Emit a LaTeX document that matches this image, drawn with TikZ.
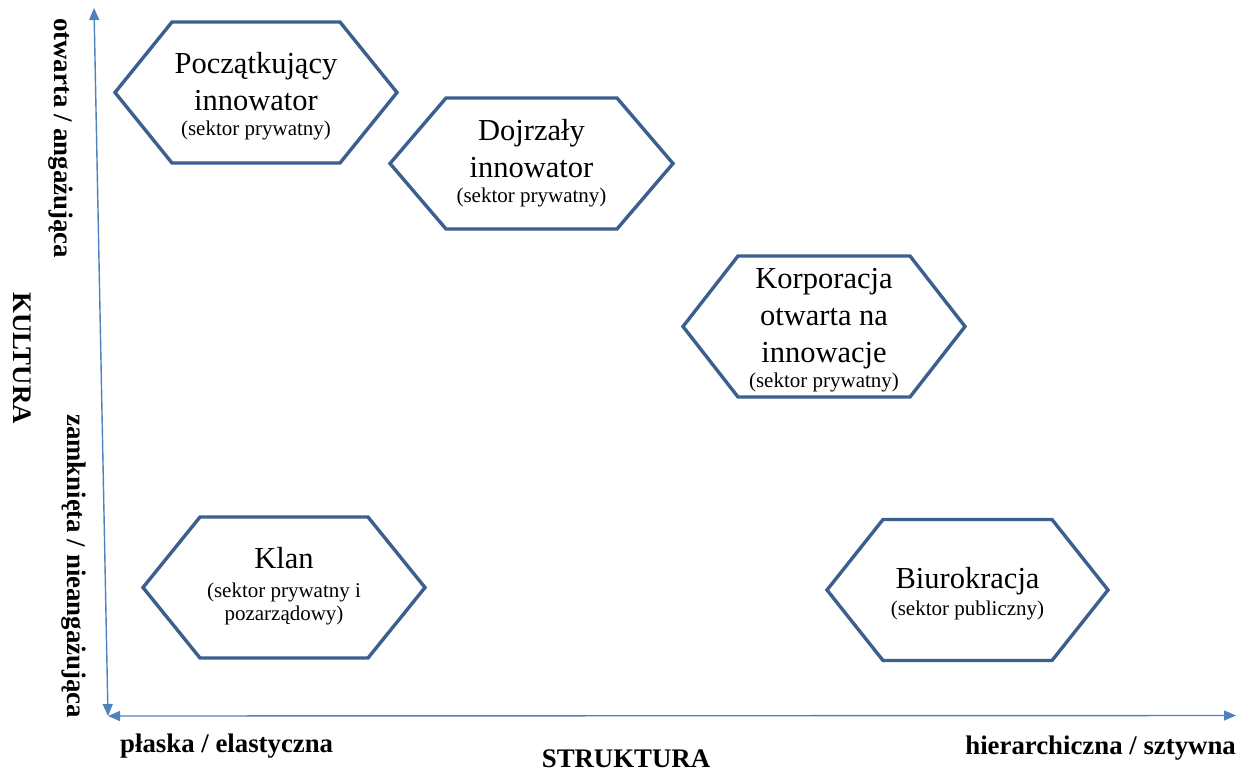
\documentclass[tikz,border=0pt]{standalone}
\usepackage{fontspec}
\setmainfont{Liberation Serif}
\usetikzlibrary{arrows.meta}

\definecolor{hexblue}{HTML}{3B5F8E}
\definecolor{axisblue}{HTML}{4F81BD}

\tikzset{
  hexline/.style={draw=hexblue, line width=3.4pt, fill=white, line join=miter},
  axisline/.style={draw=axisblue, line width=1.4pt,
    {Triangle[length=12pt,width=10pt]}-{Triangle[length=12pt,width=10pt]}},
  % multi-line labels: the base anchor sits on the baseline of the last line
  hextext/.style={align=center, inner sep=0pt, anchor=base,
    font=\fontsize{30.5}{37}\selectfont},
  axislabel/.style={inner sep=0pt, anchor=base, font=\fontsize{26.8}{30}\selectfont\bfseries},
}

% hexagon outline: name, centre x, centre y, half width, half height, slant
\newcommand{\hexshape}[6]{%
  \draw[hexline] ({#2-#4},#3) -- ({#2-#4+#6},{#3-#5}) -- ({#2+#4-#6},{#3-#5})
    -- ({#2+#4},#3) -- ({#2+#4-#6},{#3+#5}) -- ({#2-#4+#6},{#3+#5}) -- cycle;
  \coordinate (#1) at (#2,#3);
}
\newcommand{\smalltext}[1]{{\fontsize{21}{24}\selectfont #1}}

\begin{document}
\begin{tikzpicture}[x=1pt, y=-1pt]
  \useasboundingbox (0,0) rectangle (1249,771);

  % axes
  \coordinate (ytop) at (94,8);
  \coordinate (origin) at (108,716);
  \coordinate (xleft) at (108,716);
  \coordinate (xright) at (1236,715.5);
  \draw[axisline] (origin) -- (ytop);
  \draw[axisline] (xleft) -- (xright);

  % hexagons
  \hexshape{h1}{256}{92.5}{141}{70.5}{57}
  \hexshape{h2}{531.5}{163.5}{141.5}{65.5}{56}
  \hexshape{h3}{824}{326.5}{141}{70.5}{55}
  \hexshape{h4}{284}{587.5}{141}{70.5}{57}
  \hexshape{h5}{967.5}{590}{140.5}{70.5}{56}

  \node[hextext] (t1) at (256,135) {Początkujący\\innowator\\[-12pt]\smalltext{(sektor prywatny)}};
  \node[hextext] (t2) at (531.5,202) {Dojrzały\\innowator\\[-12pt]\smalltext{(sektor prywatny)}};
  \node[hextext] (t3) at (824,387) {Korporacja\\otwarta na\\innowacje\\[-12pt]\smalltext{(sektor prywatny)}};
  \node[hextext] (t4) at (284,620) {Klan\\[-8pt]\smalltext{(sektor prywatny i}\\[-14pt]\smalltext{pozarządowy)}};
  \node[hextext] (t5) at (967.5,615) {Biurokracja\\[-10pt]\smalltext{(sektor publiczny)}};

  % axis labels
  \node[axislabel, rotate=-90] (open) at (54,138) {otwarta / angażująca};
  \node[axislabel, rotate=-90] (closed) at (67,566) {zamknięta / nieangażująca};
  \node[axislabel, rotate=-90] (kultura) at (13,358) {KULTURA};
  \node[axislabel, anchor=base west] (flat) at (120,752) {płaska / elastyczna};
  \node[axislabel, anchor=base east] (rigid) at (1236,754) {hierarchiczna / sztywna};
  \node[axislabel] (struktura) at (626,767) {STRUKTURA};
\end{tikzpicture}
\end{document}
